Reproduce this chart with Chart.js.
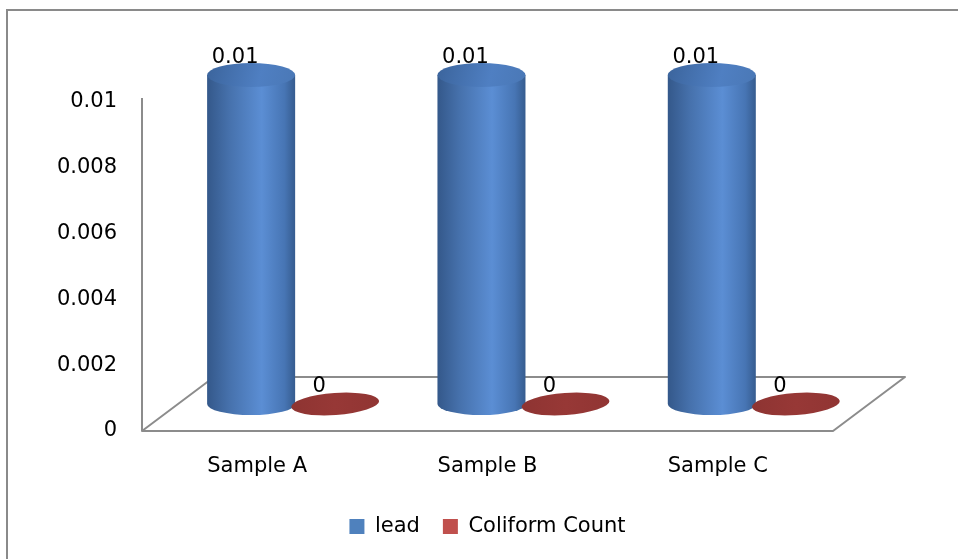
<!DOCTYPE html>
<html>
<head>
<meta charset="utf-8">
<title>Lead and Coliform Count</title>
<script src="https://cdn.jsdelivr.net/npm/chart.js@4/dist/chart.umd.min.js"></script>
<style>
  html, body { margin: 0; padding: 0; background: #ffffff; }
  #wrap { width: 958px; height: 559px; }
</style>
</head>
<body>
<div id="wrap"><canvas id="chart" width="958" height="559"></canvas></div>
<script>
// Categories, series and axis labels
const categories = ['Sample A', 'Sample B', 'Sample C'];
const leadValues = [0.01, 0.01, 0.01];
const coliformValues = [0, 0, 0];
const yTickLabels = ['0', '0.002', '0.004', '0.006', '0.008', '0.01'];

// Perspective depth of the floor (pixels)
const DEPTH_X = 72;
const DEPTH_Y = 54;

const FONT = 'DejaVu Sans';
Chart.defaults.font.family = FONT;
Chart.defaults.color = '#000000';

// Floor, outer frame, cylinders and value labels
const cylinderPlugin = {
  id: 'cylinders',
  beforeDraw(chart) {
    const ctx = chart.ctx;
    ctx.save();
    ctx.strokeStyle = '#8a8a8a';
    ctx.lineWidth = 2;
    ctx.beginPath();
    ctx.moveTo(7, chart.height);
    ctx.lineTo(7, 10);
    ctx.lineTo(chart.width, 10);
    ctx.stroke();
    ctx.restore();
  },
  beforeDatasetsDraw(chart) {
    const ctx = chart.ctx;
    const a = chart.chartArea;
    const y = chart.scales.y;
    const base = y.getPixelForValue(0);
    ctx.save();
    ctx.strokeStyle = '#8c8c8c';
    ctx.lineWidth = 2;
    ctx.lineJoin = 'round';
    // vertical axis
    ctx.beginPath();
    ctx.moveTo(a.left, a.top - 4);
    ctx.lineTo(a.left, base);
    ctx.stroke();
    // floor
    ctx.beginPath();
    ctx.moveTo(a.left + DEPTH_X, base - DEPTH_Y);
    ctx.lineTo(a.right + DEPTH_X, base - DEPTH_Y);
    ctx.lineTo(a.right, base);
    ctx.lineTo(a.left, base);
    ctx.closePath();
    ctx.stroke();
    ctx.restore();

    const dx = DEPTH_X / 2, dy = DEPTH_Y / 2;
    const leadMeta = chart.getDatasetMeta(0);
    const colMeta = chart.getDatasetMeta(1);
    for (let i = 0; i < categories.length; i++) {
      [leadMeta, colMeta].forEach((meta, di) => {
        const el = meta.data[i];
        const cx = el.x + dx;
        const rx = el.width / 2;
        const ry = 11;
        const top = el.y - dy;
        const bottom = el.base - dy;
        if (di === 0) drawCylinder(ctx, cx, rx, ry, top, bottom);
        else drawDisk(ctx, cx, rx, ry, bottom);
      });
    }
    // value labels
    ctx.save();
    ctx.font = '21px "' + FONT + '"';
    ctx.fillStyle = '#000000';
    ctx.textAlign = 'center';
    ctx.textBaseline = 'middle';
    [leadMeta, colMeta].forEach((meta, di) => {
      const vals = di === 0 ? leadValues : coliformValues;
      meta.data.forEach((el, i) => {
        ctx.fillText(String(vals[i]), el.x + dx - 16, el.y - 44);
      });
    });
    ctx.restore();
    return false;
  }
};

function drawCylinder(ctx, cx, rx, ry, top, bottom) {
  ctx.save();
  const body = ctx.createLinearGradient(cx - rx, 0, cx + rx, 0);
  body.addColorStop(0, '#34588a');
  body.addColorStop(0.25, '#4671ac');
  body.addColorStop(0.62, '#5b8ed4');
  body.addColorStop(0.88, '#4775b4');
  body.addColorStop(1, '#365c8f');
  ctx.fillStyle = body;
  ctx.beginPath();
  ctx.moveTo(cx - rx, top);
  ctx.lineTo(cx - rx, bottom);
  ctx.ellipse(cx, bottom, rx, ry, 0, Math.PI, 0, true);
  ctx.lineTo(cx + rx, top);
  ctx.closePath();
  ctx.fill();

  const cap = ctx.createLinearGradient(cx - rx, top - ry, cx + rx, top + ry);
  cap.addColorStop(0, '#3b649c');
  cap.addColorStop(0.6, '#4f7fc2');
  cap.addColorStop(1, '#4a78b6');
  ctx.fillStyle = cap;
  ctx.beginPath();
  ctx.ellipse(cx, top, rx, ry + 1, 0, 0, Math.PI * 2);
  ctx.fill();
  ctx.restore();
}

function drawDisk(ctx, cx, rx, ry, y) {
  ctx.save();
  const g = ctx.createLinearGradient(cx - rx, 0, cx + rx, 0);
  g.addColorStop(0, '#8e3432');
  g.addColorStop(0.5, '#973836');
  g.addColorStop(1, '#913533');
  ctx.fillStyle = g;
  ctx.beginPath();
  ctx.ellipse(cx, y, rx, ry, -0.07, 0, Math.PI * 2);
  ctx.fill();
  ctx.restore();
}

new Chart(document.getElementById('chart'), {
  type: 'bar',
  data: {
    labels: categories,
    datasets: [
      {
        label: 'lead',
        data: leadValues,
        backgroundColor: '#4f81bd',
        borderWidth: 0,
        categoryPercentage: 0.73,
        barPercentage: 1.047
      },
      {
        label: 'Coliform Count',
        data: coliformValues,
        backgroundColor: '#c0504d',
        borderWidth: 0,
        categoryPercentage: 0.73,
        barPercentage: 1.047
      }
    ]
  },
  options: {
    responsive: false,
    animation: false,
    events: [],
    layout: { padding: { top: 102, left: 0, right: 125, bottom: 12 } },
    scales: {
      x: {
        grid: { display: false, drawTicks: false },
        border: { display: false },
        ticks: { padding: 23, font: { size: 21 }, color: '#000000', maxRotation: 0 },
        afterFit(scale) { scale.height = 62; }
      },
      y: {
        min: 0,
        max: 0.01,
        grid: { display: false, drawTicks: false },
        border: { display: false },
        ticks: {
          stepSize: 0.002,
          padding: 25,
          font: { size: 21 },
          color: '#000000',
          callback: (value, index) => yTickLabels[index]
        },
        afterFit(scale) { scale.width = 142; }
      }
    },
    plugins: {
      legend: {
        position: 'bottom',
        fullSize: false,
        labels: {
          boxWidth: 15,
          boxHeight: 15,
          padding: 23,
          font: { size: 21 },
          color: '#000000'
        }
      },
      tooltip: { enabled: false }
    }
  },
  plugins: [cylinderPlugin]
});
</script>
</body>
</html>
